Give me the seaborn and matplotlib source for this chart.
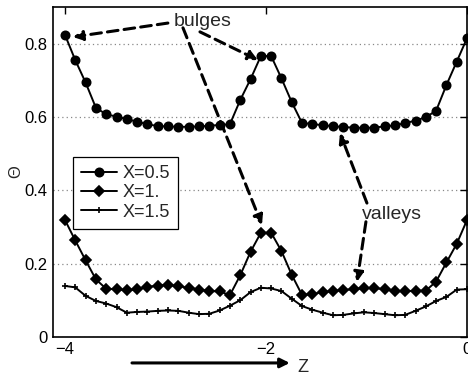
import matplotlib
matplotlib.use("Agg")
import matplotlib.pyplot as plt
import numpy as np
import pandas as pd
import seaborn as sns

# sampling grid along Z (40 points from -4 to 0)
z = np.linspace(-4, 0, 40)

theta_x05 = [0.824, 0.755, 0.694, 0.625, 0.607, 0.601, 0.594, 0.587, 0.580, 0.575,
             0.574, 0.573, 0.573, 0.574, 0.576, 0.578, 0.580, 0.646, 0.703, 0.766,
             0.766, 0.705, 0.640, 0.583, 0.581, 0.577, 0.575, 0.572, 0.571, 0.570,
             0.571, 0.574, 0.577, 0.583, 0.590, 0.599, 0.617, 0.687, 0.751, 0.815]

theta_x10 = [0.319, 0.263, 0.209, 0.157, 0.131, 0.130, 0.127, 0.130, 0.136, 0.140,
             0.142, 0.138, 0.134, 0.129, 0.125, 0.124, 0.114, 0.168, 0.232, 0.284,
             0.284, 0.234, 0.169, 0.114, 0.117, 0.122, 0.125, 0.128, 0.130, 0.133,
             0.133, 0.130, 0.125, 0.124, 0.126, 0.126, 0.151, 0.203, 0.254, 0.319]

theta_x15 = [0.139, 0.135, 0.112, 0.098, 0.091, 0.081, 0.066, 0.068, 0.069, 0.071,
             0.072, 0.071, 0.066, 0.062, 0.063, 0.072, 0.085, 0.100, 0.122, 0.134,
             0.132, 0.125, 0.104, 0.084, 0.074, 0.066, 0.059, 0.060, 0.064, 0.067,
             0.065, 0.062, 0.059, 0.060, 0.071, 0.083, 0.098, 0.109, 0.129, 0.130]

labels = ["X=0.5", "X=1.", "X=1.5"]
x_ticks = [-4, -2, 0]
y_ticks = [0, 0.2, 0.4, 0.6, 0.8]
y_tick_labels = ["0", "0.2", "0.4", "0.6", "0.8"]

sns.set_style("white")
plt.rcParams["font.family"] = ["Liberation Sans", "DejaVu Sans"]

fig = plt.figure(figsize=(4.68, 3.85), dpi=100)
ax = fig.add_axes([0.113, 0.125, 0.885, 0.857])

styles = [
    (theta_x05, "o", 6.0),
    (theta_x10, "D", 5.2),
    (theta_x15, "+", 4.5),
]
for (vals, mk, ms), lab in zip(styles, labels):
    sns.lineplot(x=z, y=vals, ax=ax, color="k", lw=1.4, marker=mk, markersize=ms,
                 markeredgewidth=1.2, markeredgecolor="k", label=lab)

ax.set_xlim(-4.12, 0)
ax.set_ylim(0, 0.9)
ax.set_xticks(x_ticks)
ax.set_yticks(y_ticks)
ax.set_yticklabels(y_tick_labels)
ax.tick_params(direction="in", length=5, width=1, top=True, right=True,
               labelsize=12, colors="k", pad=4)
ax.yaxis.grid(True, linestyle=(0, (1, 2.5)), color="#888888", lw=0.9)
ax.xaxis.grid(False)
for sp in ax.spines.values():
    sp.set_color("k")
    sp.set_linewidth(1.2)

ax.set_ylabel("Θ", fontsize=12, labelpad=1)
ax.set_xlabel("")

# Z label with arrow under the axis
ax.annotate("", xy=(0.572, -0.079), xytext=(0.191, -0.079), xycoords="axes fraction",
            arrowprops=dict(arrowstyle="-|>", color="k", lw=2.2, mutation_scale=14,
                            shrinkA=0, shrinkB=0), annotation_clip=False)
ax.text(0.59, -0.094, "Z", transform=ax.transAxes, fontsize=13, ha="left", va="center")

arrow_kw = dict(arrowstyle="-|>", color="k", lw=2.2, linestyle=(0, (3.5, 2)),
                mutation_scale=14, shrinkA=0, shrinkB=0)

ax.text(-2.627, 0.859, "bulges", fontsize=14, ha="center", va="center")
ax.annotate("", xy=(-3.921, 0.818), xytext=(-2.976, 0.856), arrowprops=arrow_kw)
ax.annotate("", xy=(-2.080, 0.755), xytext=(-2.657, 0.832), arrowprops=arrow_kw)
ax.annotate("", xy=(-2.040, 0.305), xytext=(-2.826, 0.843), arrowprops=arrow_kw)

ax.text(-0.747, 0.335, "valleys", fontsize=14, ha="center", va="center")
ax.annotate("", xy=(-1.264, 0.556), xytext=(-0.996, 0.365), arrowprops=arrow_kw)
ax.annotate("", xy=(-1.095, 0.150), xytext=(-1.006, 0.314), arrowprops=arrow_kw)

leg = ax.legend(loc="upper left", bbox_to_anchor=(0.048, 0.545), borderaxespad=0,
                fontsize=13, fancybox=False, framealpha=1, edgecolor="k",
                handlelength=2.0, handletextpad=0.3, labelspacing=0.12, borderpad=0.45)
leg.get_frame().set_linewidth(0.9)

plt.savefig("out.png", dpi=100)
plt.close()
